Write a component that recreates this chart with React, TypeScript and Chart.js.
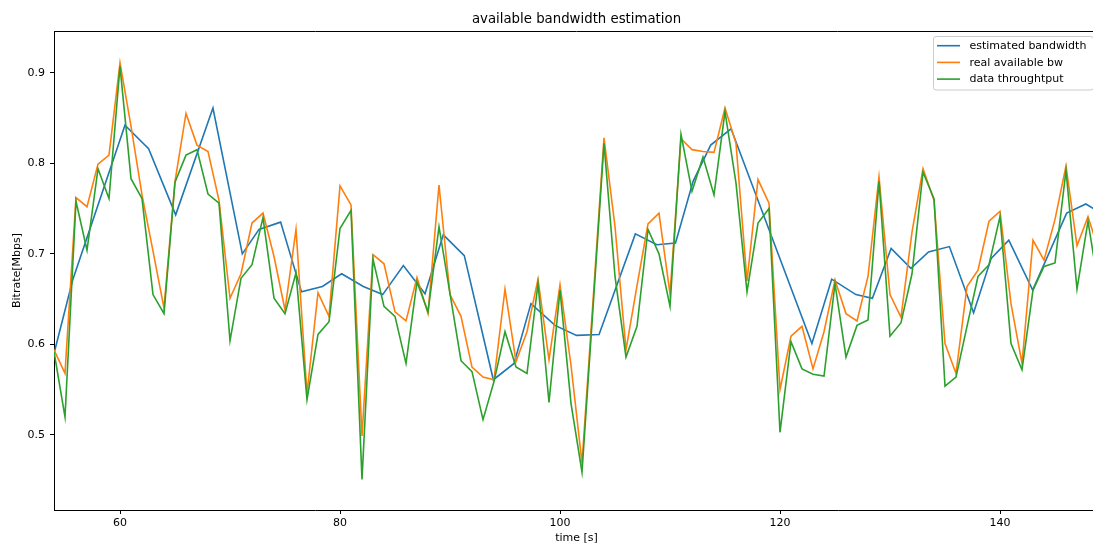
import React, { useEffect, useRef } from "react";
import { Chart, registerables } from "chart.js";

Chart.register(...registerables);

// ---- data ----
const timeSeconds = [
  54, 55, 56, 57, 58, 59, 60, 61, 62, 63, 64, 65, 66, 67, 68, 69, 70, 71, 72, 73,
  74, 75, 76, 77, 78, 79, 80, 81, 82, 83, 84, 85, 86, 87, 88, 89, 90, 91, 92, 93,
  94, 95, 96, 97, 98, 99, 100, 101, 102, 103, 104, 105, 106, 107, 108, 109, 110, 111, 112, 113,
  114, 115, 116, 117, 118, 119, 120, 121, 122, 123, 124, 125, 126, 127, 128, 129, 130, 131, 132, 133,
  134, 135, 136, 137, 138, 139, 140, 141, 142, 143, 144, 145, 146, 147, 148, 149,
];

const realAvailableBw = [
  0.594, 0.568, 0.762, 0.752, 0.799, 0.809, 0.911, 0.841, 0.765, 0.703, 0.640, 0.780, 0.855, 0.820, 0.813, 0.759, 0.651, 0.678, 0.734, 0.745,
  0.697, 0.638, 0.727, 0.546, 0.657, 0.631, 0.775, 0.754, 0.499, 0.699, 0.689, 0.636, 0.626, 0.674, 0.634, 0.776, 0.655, 0.631, 0.575, 0.564,
  0.561, 0.661, 0.581, 0.614, 0.672, 0.583, 0.666, 0.577, 0.469, 0.648, 0.828, 0.730, 0.594, 0.665, 0.733, 0.745, 0.656, 0.827, 0.815, 0.813,
  0.812, 0.861, 0.822, 0.670, 0.782, 0.756, 0.550, 0.609, 0.620, 0.573, 0.614, 0.671, 0.634, 0.626, 0.675, 0.785, 0.655, 0.630, 0.724, 0.794,
  0.759, 0.601, 0.568, 0.664, 0.682, 0.736, 0.747, 0.645, 0.579, 0.715, 0.693, 0.738, 0.797, 0.709, 0.741, 0.703,
];

const dataThroughput = [
  0.592, 0.520, 0.758, 0.704, 0.794, 0.761, 0.907, 0.783, 0.761, 0.655, 0.634, 0.779, 0.809, 0.815, 0.766, 0.756, 0.604, 0.673, 0.688, 0.740,
  0.651, 0.634, 0.679, 0.539, 0.611, 0.625, 0.728, 0.748, 0.451, 0.694, 0.642, 0.631, 0.579, 0.669, 0.636, 0.730, 0.656, 0.582, 0.570, 0.517,
  0.559, 0.614, 0.575, 0.568, 0.667, 0.536, 0.660, 0.535, 0.459, 0.640, 0.822, 0.675, 0.586, 0.620, 0.727, 0.700, 0.642, 0.832, 0.769, 0.807,
  0.765, 0.857, 0.778, 0.658, 0.734, 0.750, 0.503, 0.603, 0.573, 0.567, 0.565, 0.667, 0.586, 0.621, 0.627, 0.780, 0.609, 0.624, 0.678, 0.790,
  0.761, 0.554, 0.564, 0.620, 0.675, 0.688, 0.741, 0.601, 0.572, 0.660, 0.686, 0.690, 0.792, 0.661, 0.736, 0.660,
];

const estimatedTimes = [
  54.0, 55.7, 60.45, 62.6, 65.06, 68.45, 71.12, 72.64, 74.6, 76.5, 78.4, 80.15, 82.12, 83.88, 85.76,
  87.73, 89.39, 91.3, 93.94, 95.82, 97.36, 99.55, 101.5, 103.55, 106.85, 108.8, 110.5, 112.1, 113.7,
  115.55, 122.9, 124.7, 126.9, 128.4, 130.1, 131.9, 133.5, 135.4, 137.6, 139.2, 140.8, 142.97, 146.06,
  147.8, 149.6,
];

const estimatedBandwidth = [
  0.590, 0.671, 0.842, 0.816, 0.743, 0.861, 0.700, 0.727, 0.735, 0.658, 0.664, 0.678, 0.664, 0.655, 0.687,
  0.656, 0.721, 0.698, 0.561, 0.579, 0.645, 0.621, 0.610, 0.611, 0.722, 0.710, 0.712, 0.780, 0.820,
  0.838, 0.601, 0.672, 0.655, 0.651, 0.706, 0.684, 0.702, 0.708, 0.635, 0.695, 0.715, 0.660, 0.745,
  0.755, 0.742,
];

const xTicks = [60, 80, 100, 120, 140];
const yTicks = [0.5, 0.6, 0.7, 0.8, 0.9];

const seriesLabels = ["estimated bandwidth", "real available bw", "data throughtput"];
const seriesColors = ["#1f77b4", "#ff7f0e", "#2ca02c"];
const chartTitle = "available bandwidth estimation";
const xLabel = "time [s]";
const yLabel = "Bitrate[Mbps]";

const FONT = "DejaVu Sans";

const framePlugin = {
  id: "frame",
  afterDraw(chart: any) {
    const { ctx, chartArea: a } = chart;
    ctx.save();
    ctx.strokeStyle = "#000";
    ctx.lineWidth = 1;
    ctx.beginPath();
    ctx.moveTo(a.left, a.top + 0.5);
    ctx.lineTo(a.right, a.top + 0.5);
    ctx.moveTo(a.right - 0.5, a.top);
    ctx.lineTo(a.right - 0.5, a.bottom);
    ctx.stroke();
    ctx.restore();
  },
};

const titlePlugin = {
  id: "mplTitle",
  afterDraw(chart: any) {
    const { ctx, chartArea: a } = chart;
    ctx.save();
    ctx.fillStyle = "#000";
    ctx.font = `13.3px "${FONT}"`;
    ctx.textAlign = "center";
    ctx.textBaseline = "middle";
    ctx.fillText(chartTitle, (a.left + a.right) / 2, 19.5);
    ctx.restore();
  },
};

const legendPlugin = {
  id: "mplLegend",
  afterDraw(chart: any) {
    const { ctx, chartArea: a } = chart;
    const right = a.right - 5.5;
    const left = right - 160;
    const top = a.top + 5.5;
    const height = 53.5;
    ctx.save();
    ctx.beginPath();
    const r = 2.5;
    ctx.moveTo(left + r, top);
    ctx.lineTo(right - r, top);
    ctx.arcTo(right, top, right, top + r, r);
    ctx.lineTo(right, top + height - r);
    ctx.arcTo(right, top + height, right - r, top + height, r);
    ctx.lineTo(left + r, top + height);
    ctx.arcTo(left, top + height, left, top + height - r, r);
    ctx.lineTo(left, top + r);
    ctx.arcTo(left, top, left + r, top, r);
    ctx.closePath();
    ctx.fillStyle = "rgba(255,255,255,0.8)";
    ctx.fill();
    ctx.strokeStyle = "#cccccc";
    ctx.lineWidth = 1;
    ctx.stroke();
    ctx.font = `11px "${FONT}"`;
    ctx.textBaseline = "middle";
    ctx.textAlign = "left";
    chart.data.datasets.forEach((ds: any, i: number) => {
      const y = top + 9.2 + i * 16.7;
      ctx.strokeStyle = ds.borderColor;
      ctx.lineWidth = 1.6;
      ctx.beginPath();
      ctx.moveTo(left + 3.5, y);
      ctx.lineTo(left + 26.5, y);
      ctx.stroke();
      ctx.fillStyle = "#000";
      ctx.fillText(ds.label, left + 36, y + 0.5);
    });
    ctx.restore();
  },
};

export default function App() {
  const ref = useRef<HTMLCanvasElement>(null);

  useEffect(() => {
    if (!ref.current) return;
    const mk = (xs: number[], ys: number[]) => xs.map((x, i) => ({ x, y: ys[i] }));
    const common = {
      borderWidth: 1.6,
      pointRadius: 0,
      pointHoverRadius: 0,
      tension: 0,
      fill: false,
    };
    const chart = new Chart(ref.current, {
      type: "line",
      data: {
        datasets: [
          { ...common, label: seriesLabels[0], data: mk(estimatedTimes, estimatedBandwidth), borderColor: seriesColors[0], backgroundColor: seriesColors[0], order: 2 },
          { ...common, label: seriesLabels[1], data: mk(timeSeconds, realAvailableBw), borderColor: seriesColors[1], backgroundColor: seriesColors[1], order: 1 },
          { ...common, label: seriesLabels[2], data: mk(timeSeconds, dataThroughput), borderColor: seriesColors[2], backgroundColor: seriesColors[2], order: 0 },
        ],
      },
      options: {
        responsive: false,
        animation: false,
        devicePixelRatio: 1,
        layout: { padding: { top: 31, right: 2, left: 0, bottom: 0 } },
        plugins: {
          legend: { display: false },
          tooltip: { enabled: false },
          title: { display: false },
        },
        scales: {
          x: {
            type: "linear",
            min: 54,
            max: 149,
            afterFit: (s: any) => { s.height = 36; },
            afterBuildTicks: (s: any) => { s.ticks = xTicks.map((v) => ({ value: v })); },
            grid: { display: true, drawOnChartArea: false, drawTicks: true, tickLength: 4, color: "#000", tickColor: "#000" },
            border: { display: true, color: "#000", width: 1 },
            ticks: {
              color: "#000",
              font: { family: FONT, size: 11 },
              padding: 3,
              maxRotation: 0,
              autoSkip: false,
              callback: (v: any) => String(v),
            },
            title: { display: true, text: xLabel, color: "#000", font: { family: FONT, size: 11 }, padding: { top: 0, bottom: 1.5 } },
          },
          y: {
            type: "linear",
            min: 0.4172,
            max: 0.946,
            afterFit: (s: any) => { s.width = 54; },
            afterBuildTicks: (s: any) => { s.ticks = yTicks.map((v) => ({ value: v })); },
            grid: { display: true, drawOnChartArea: false, drawTicks: true, tickLength: 4, color: "#000", tickColor: "#000" },
            border: { display: true, color: "#000", width: 1 },
            ticks: {
              color: "#000",
              font: { family: FONT, size: 11 },
              padding: 5,
              autoSkip: false,
              callback: (v: any) => Number(v).toFixed(1),
            },
            title: { display: true, text: yLabel, color: "#000", font: { family: FONT, size: 11 }, padding: { top: 11, bottom: 0 } },
          },
        },
      },
      plugins: [framePlugin, titlePlugin, legendPlugin],
    } as any);
    return () => chart.destroy();
  }, []);

  return (
    <div style={{ position: "fixed", left: 0, top: 0, width: 1093, height: 546, overflow: "hidden", background: "#fff" }}>
      <canvas ref={ref} width={1101} height={546} style={{ display: "block", width: 1101, height: 546 }} />
    </div>
  );
}
